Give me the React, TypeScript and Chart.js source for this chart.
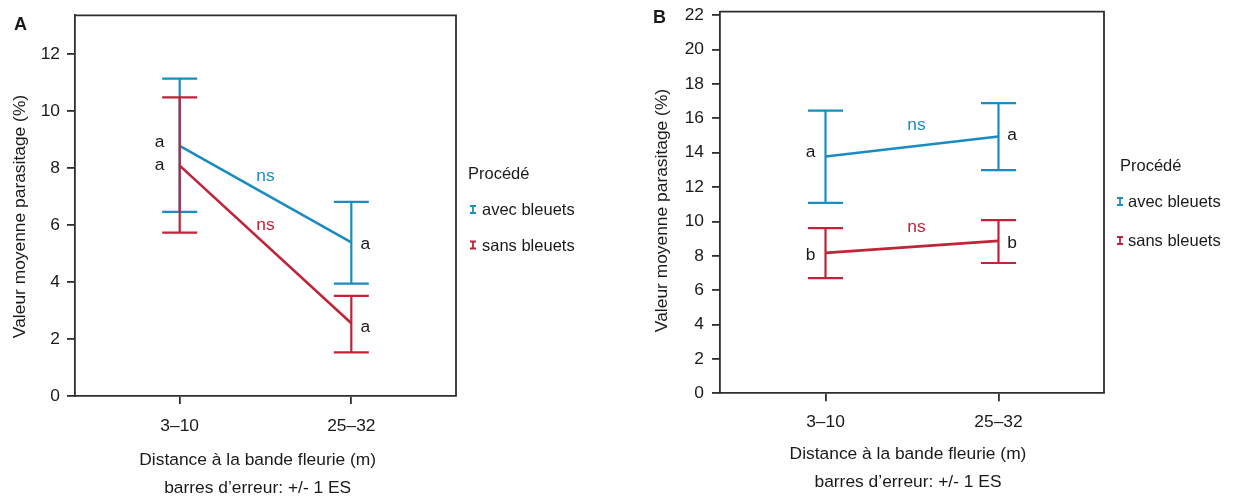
import React, { useEffect, useRef } from 'react';
import { Chart, registerables } from 'chart.js';
Chart.register(...registerables);

// ---------- DATA ----------
const categories = ['3–10', '25–32'];
const seriesNames = ['avec bleuets', 'sans bleuets'];
const legendTitle = 'Procédé';
const yAxisTitle = 'Valeur moyenne parasitage (%)';
const xAxisTitle = ['Distance à la bande fleurie (m)', 'barres d’erreur: +/- 1 ES'];

const yTicksA = [0, 2, 4, 6, 8, 10, 12];
const yTicksB = [0, 2, 4, 6, 8, 10, 12, 14, 16, 18, 20, 22];

// Panel A
const aAvecMean = [8.77, 5.39];
const aAvecLow = [6.46, 3.94];
const aAvecHigh = [11.13, 6.81];
const aSansMean = [8.08, 2.55];
const aSansLow = [5.73, 1.53];
const aSansHigh = [10.47, 3.51];
const aAvecLetters = ['a', 'a'];
const aSansLetters = ['a', 'a'];

// Panel B
const bAvecMean = [13.78, 14.94];
const bAvecLow = [11.08, 12.98];
const bAvecHigh = [16.45, 16.88];
const bSansMean = [8.17, 8.87];
const bSansLow = [6.7, 7.58];
const bSansHigh = [9.61, 10.08];
const bAvecLetters = ['a', 'a'];
const bSansLetters = ['b', 'b'];

const pairLabel = 'ns';

// ---------- STYLE ----------
const BLUE = '#1a8cc1';
const RED = '#bf2439';
const AXIS = '#2e2e2e';
const TEXT = '#1a1a1a';
const FONT = '"Liberation Sans", Arial, sans-serif';
const X_AXIS_BOX = 40;

type Series = {
  name: string; color: string; mean: number[]; low: number[]; high: number[];
  letters: string[]; letterDy: number[]; nsDy: number;
};
type Panel = {
  letter: string; yMax: number; yTicks: number[]; series: Series[];
  width: number; left: number;
  padding: { left: number; top: number; right: number; bottom: number };
  yAxisWidth: number; yTickPad: number; xTickPad: number;
  letterPos: [number, number]; yTitlePos: [number, number];
  xTitleX: number; xTitleBaselines: number[];
  legend: { titleX: number; titleBase: number; iconX: number; textX: number; rows: number[] };
  letterDx: number[]; nsDx: number; capHalf: number;
};

const panelA: Panel = {
  letter: 'A', yMax: 13.35, yTicks: yTicksA,
  series: [
    { name: seriesNames[0], color: BLUE, mean: aAvecMean, low: aAvecLow, high: aAvecHigh, letters: aAvecLetters, letterDy: [1, 7], nsDy: -13 },
    { name: seriesNames[1], color: RED, mean: aSansMean, low: aSansLow, high: aSansHigh, letters: aSansLetters, letterDy: [4, 9], nsDy: -14.5 },
  ],
  width: 600, left: 0,
  padding: { left: 0, top: 15.3, right: 144, bottom: 102 - X_AXIS_BOX },
  yAxisWidth: 75, yTickPad: 7, xTickPad: 12,
  letterPos: [14, 29.5], yTitlePos: [20.5, 216.5],
  xTitleX: 257.7, xTitleBaselines: [465, 493],
  legend: { titleX: 468, titleBase: 178.5, iconX: 473, textX: 482, rows: [215, 250.5] },
  letterDx: [-20, 14], nsDx: 0, capHalf: 17.5,
};

const panelB: Panel = {
  letter: 'B', yMax: 22.2, yTicks: yTicksB,
  series: [
    { name: seriesNames[0], color: BLUE, mean: bAvecMean, low: bAvecLow, high: bAvecHigh, letters: bAvecLetters, letterDy: [1, 4], nsDy: -16 },
    { name: seriesNames[1], color: RED, mean: bSansMean, low: bSansLow, high: bSansHigh, letters: bSansLetters, letterDy: [7, 7], nsDy: -14.7 },
  ],
  width: 637, left: 600,
  padding: { left: 0, top: 11.7, right: 133, bottom: 104.7 - X_AXIS_BOX },
  yAxisWidth: 120, yTickPad: 8, xTickPad: 10,
  letterPos: [53, 22.5], yTitlePos: [62, 210.5],
  xTitleX: 308, xTitleBaselines: [459, 487],
  legend: { titleX: 520, titleBase: 171, iconX: 520, textX: 528, rows: [207, 246] },
  letterDx: [-15, 13.5], nsDx: 4.5, capHalf: 17.5,
};

function makePlugin(p: Panel) {
  return {
    id: 'panelDecor' + p.letter,
    afterDatasetDraw(chart: any, args: any) {
      const s = p.series[args.index];
      if (!s) return;
      const ctx = chart.ctx;
      const xs = chart.scales.x;
      const ys = chart.scales.y;
      ctx.save();
      ctx.strokeStyle = s.color;
      ctx.lineWidth = 2.2;
      ctx.lineCap = 'butt';
      for (let i = 0; i < s.mean.length; i++) {
        const px = xs.getPixelForValue(i);
        const yl = ys.getPixelForValue(s.low[i]);
        const yh = ys.getPixelForValue(s.high[i]);
        ctx.beginPath();
        ctx.moveTo(px, yh); ctx.lineTo(px, yl);
        ctx.moveTo(px - p.capHalf, yh); ctx.lineTo(px + p.capHalf, yh);
        ctx.moveTo(px - p.capHalf, yl); ctx.lineTo(px + p.capHalf, yl);
        ctx.stroke();
      }
      ctx.restore();
    },
    afterDraw(chart: any) {
      const ctx = chart.ctx;
      const ca = chart.chartArea;
      const xs = chart.scales.x;
      const ys = chart.scales.y;
      ctx.save();
      // frame top and right
      ctx.strokeStyle = AXIS;
      ctx.lineWidth = 1.8;
      ctx.beginPath();
      ctx.moveTo(ca.left, ca.top);
      ctx.lineTo(ca.right, ca.top);
      ctx.lineTo(ca.right, ca.bottom);
      ctx.stroke();

      ctx.fillStyle = TEXT;
      // panel letter
      ctx.font = `bold 18px ${FONT}`;
      ctx.textAlign = 'left';
      ctx.textBaseline = 'alphabetic';
      ctx.fillText(p.letter, p.letterPos[0], p.letterPos[1]);

      // y title
      ctx.save();
      ctx.font = `17.4px ${FONT}`;
      ctx.translate(p.yTitlePos[0], p.yTitlePos[1]);
      ctx.rotate(-Math.PI / 2);
      ctx.textAlign = 'center';
      ctx.textBaseline = 'middle';
      ctx.fillText(yAxisTitle, 0, 0);
      ctx.restore();

      // x title
      ctx.font = `17.4px ${FONT}`;
      ctx.textAlign = 'center';
      ctx.textBaseline = 'alphabetic';
      xAxisTitle.forEach((t, i) => ctx.fillText(t, p.xTitleX, p.xTitleBaselines[i]));

      // legend
      ctx.font = `16.5px ${FONT}`;
      ctx.textAlign = 'left';
      ctx.fillText(legendTitle, p.legend.titleX, p.legend.titleBase);
      p.series.forEach((s, i) => {
        const base = p.legend.rows[i];
        ctx.fillStyle = TEXT;
        ctx.fillText(s.name, p.legend.textX, base);
        const cy = base - 5.5;
        const cx = p.legend.iconX;
        ctx.strokeStyle = s.color;
        ctx.lineWidth = 1.8;
        ctx.beginPath();
        ctx.moveTo(cx, cy - 3.5); ctx.lineTo(cx, cy + 3.5);
        ctx.moveTo(cx - 3, cy - 3.5); ctx.lineTo(cx + 3, cy - 3.5);
        ctx.moveTo(cx - 3, cy + 3.5); ctx.lineTo(cx + 3, cy + 3.5);
        ctx.stroke();
      });

      // annotations
      ctx.font = `17.4px ${FONT}`;
      ctx.textAlign = 'center';
      ctx.textBaseline = 'alphabetic';
      p.series.forEach((s) => {
        ctx.fillStyle = TEXT;
        s.mean.forEach((m, i) => {
          const px = xs.getPixelForValue(i) + p.letterDx[i];
          const py = ys.getPixelForValue(m) + s.letterDy[i];
          ctx.fillText(s.letters[i], px, py);
        });
        const midX = xs.getPixelForValue(0.5) + p.nsDx;
        const midY = (ys.getPixelForValue(s.mean[0]) + ys.getPixelForValue(s.mean[1])) / 2 + s.nsDy;
        ctx.fillStyle = s.color;
        ctx.fillText(pairLabel, midX, midY);
      });
      ctx.restore();
    },
  };
}

function PanelChart({ p }: { p: Panel }) {
  const ref = useRef<HTMLCanvasElement | null>(null);
  useEffect(() => {
    if (!ref.current) return;
    const chart = new Chart(ref.current, {
      type: 'line',
      data: {
        datasets: p.series.map((s, k) => ({
          label: s.name,
          data: s.mean.map((v, i) => ({ x: i, y: v })),
          borderColor: s.color,
          backgroundColor: s.color,
          borderWidth: 2.6,
          pointRadius: 0,
          fill: false,
          tension: 0,
          order: p.series.length - k,
        })),
      },
      options: {
        responsive: false,
        animation: false,
        devicePixelRatio: 1,
        layout: { padding: p.padding },
        plugins: { legend: { display: false }, tooltip: { enabled: false }, title: { display: false } },
        events: [],
        scales: {
          x: {
            type: 'linear',
            min: -0.61,
            max: 1.61,
            afterBuildTicks: (s: any) => { s.ticks = categories.map((_, i) => ({ value: i })); },
            afterFit: (s: any) => { s.height = X_AXIS_BOX; s.paddingLeft = 0; s.paddingRight = 0; },
            ticks: {
              callback: (v: any) => categories[Math.round(Number(v))] ?? '',
              padding: p.xTickPad,
              color: TEXT,
              font: { family: FONT, size: 17.4 },
              maxRotation: 0,
              autoSkip: false,
            },
            grid: { drawOnChartArea: false, drawTicks: true, tickLength: 8, color: AXIS, lineWidth: 1.8 },
            border: { display: true, color: AXIS, width: 1.8 },
          },
          y: {
            type: 'linear',
            min: 0,
            max: p.yMax,
            afterBuildTicks: (s: any) => { s.ticks = p.yTicks.map((v) => ({ value: v })); },
            afterFit: (s: any) => { s.width = p.yAxisWidth; s.paddingTop = 0; s.paddingBottom = 0; },
            ticks: {
              padding: p.yTickPad,
              color: TEXT,
              font: { family: FONT, size: 17.4 },
              autoSkip: false,
            },
            grid: { drawOnChartArea: false, drawTicks: true, tickLength: 8, color: AXIS, lineWidth: 1.8 },
            border: { display: true, color: AXIS, width: 1.8 },
          },
        },
      } as any,
      plugins: [makePlugin(p)],
    });
    return () => chart.destroy();
  }, [p]);
  return (
    <canvas
      ref={ref}
      width={p.width}
      height={498}
      style={{ position: 'absolute', left: p.left, top: 0, width: p.width, height: 498 }}
    />
  );
}

export default function App() {
  return (
    <div style={{ position: 'absolute', left: 0, top: 0, width: 1237, height: 498, background: '#fff', overflow: 'hidden' }}>
      <PanelChart p={panelA} />
      <PanelChart p={panelB} />
    </div>
  );
}
